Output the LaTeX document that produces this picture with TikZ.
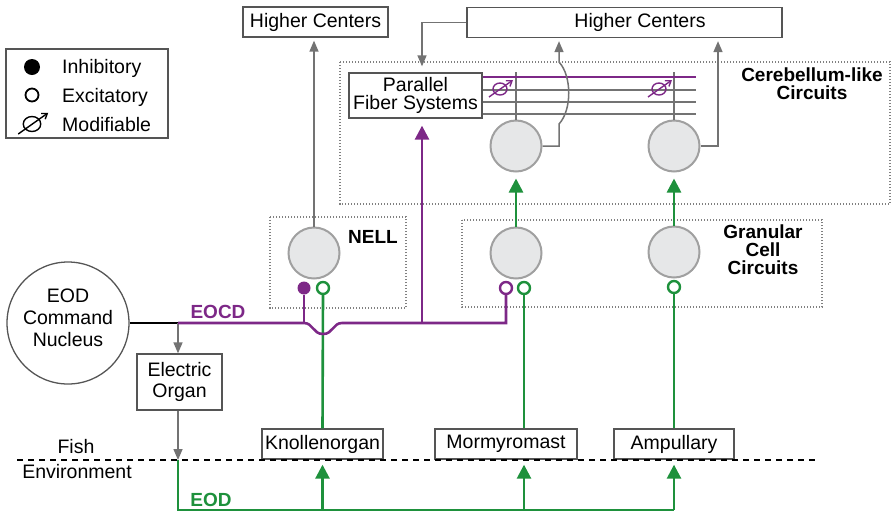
\documentclass[tikz,border=0pt]{standalone}
\usepackage{fontspec}
\setmainfont{Liberation Sans}
\usetikzlibrary{arrows.meta}

\definecolor{eocdpurple}{RGB}{125,40,135}
\definecolor{eodgreen}{RGB}{30,145,60}
\definecolor{cellfill}{RGB}{230,231,232}
\definecolor{celldraw}{RGB}{160,160,160}
\definecolor{wiregray}{RGB}{115,115,115}
\definecolor{boxgray}{RGB}{85,85,85}

\tikzset{
  cell/.style={circle, draw=celldraw, fill=cellfill, line width=2pt, minimum size=51pt, inner sep=0pt},
  box/.style={draw=boxgray, line width=1.3pt, inner sep=0pt, align=center, fill=white},
  region/.style={draw=gray, line width=1.2pt, dash pattern=on 1.2pt off 1.8pt},
  label/.style={inner sep=0pt, align=center},
  boldlabel/.style={inner sep=0pt, align=center, font=\fontsize{19}{18}\selectfont\bfseries},
  blackwire/.style={draw=black, line width=1.3pt},
  graywire/.style={draw=wiregray, line width=1.5pt},
  purplewire/.style={draw=eocdpurple, line width=2.6pt},
  greenwire/.style={draw=eodgreen, line width=2.6pt},
  smallhead/.style={-{Triangle[length=11pt,width=9pt]}},
  bighead/.style={-{Triangle[length=14pt,width=14pt]}},
  inhsyn/.style={circle, fill=eocdpurple, minimum size=13pt, inner sep=0pt},
  excsyn/.style={circle, draw=#1, line width=2.4pt, fill=white, minimum size=12pt, inner sep=0pt},
  modsym/.pic={
    \draw[line width=1.4pt] (0,0) ellipse (7 and 6);
    \draw[line width=1.4pt, -{Straight Barb[length=5pt,width=7pt]}] (-11,-8) -- (13,9);
  }
}

\begin{document}
\begin{tikzpicture}[x=1pt,y=1pt,yscale=-1,xscale=1,font=\fontsize{19.5}{22}\selectfont]
\useasboundingbox (0,0) rectangle (893,515);

%Shape: Legend
\draw[draw=boxgray, line width=1.3pt] (6,49) rectangle (168,138);
\node[circle, fill=black, minimum size=16pt, inner sep=0pt] (leginh) at (32,67) {};
\node[circle, draw=black, line width=1.8pt, minimum size=13pt, inner sep=0pt] (legexc) at (32,95) {};
\pic[scale=1.25] at (32,124) {modsym};
% Text Node
\node[label, anchor=base west] (leginhtxt) at (62,73) {Inhibitory};
\node[label, anchor=base west] (legexctxt) at (62,102) {Excitatory};
\node[label, anchor=base west] (legmodtxt) at (62,131) {Modifiable};

%Shape: Regions
\draw[region] (340,62) rectangle (890,204);
\draw[region] (462,220) rectangle (822,307);
\draw[region] (270,217) rectangle (406,308);

% Text Node
\node[boldlabel] (cblabel) at (812,84) {Cerebellum-like\\Circuits};
\node[boldlabel] (gclabel) at (763,250) {Granular\\Cell\\Circuits};
\node[boldlabel] (nelllabel) at (373,237) {NELL};

%Shape: Boxes
\node[box, minimum width=145pt, minimum height=30pt] (hcleft) at (315.5,22) {Higher Centers};
\node[box, minimum width=315pt, minimum height=30pt] (hcright) at (624.5,22.5) {\hspace*{31pt}Higher Centers};
\node[box, minimum width=133pt, minimum height=45pt, font=\fontsize{19.5}{18}\selectfont] (pfs) at (415.5,95.5) {Parallel\\Fiber Systems};
\node[box, minimum width=85pt, minimum height=56pt, font=\fontsize{19.5}{21}\selectfont] (organ) at (179.5,382) {Electric\\Organ};
\node[box, minimum width=121pt, minimum height=30pt] (knollen) at (322.5,444) {Knollenorgan};
\node[box, minimum width=142pt, minimum height=30pt] (mormyro) at (506,444) {Mormyromast};
\node[box, minimum width=120pt, minimum height=30pt] (ampull) at (674,444) {Ampullary};

%Shape: Circle
\node[circle, draw=boxgray, line width=1.3pt, minimum size=122pt, inner sep=0pt] (eodcn) at (68,323) {};
\node[label] (eodcntxt) at (68,318) {EOD\\Command\\Nucleus};

%Shape: Cells
\node[cell] (cbone) at (516,146) {};
\node[cell] (cbtwo) at (674,146) {};
\node[cell] (gcone) at (516,253) {};
\node[cell] (gctwo) at (674,252) {};
\node[cell] (nellcell) at (314,253) {};

% Fixed points
\coordinate (junc) at (178,323);
\coordinate (skin) at (178,460);
\coordinate (eodcorner) at (178,510);
\coordinate (pfsfeed) at (422,323);
\coordinate (fiberend) at (696,77);
\coordinate (cbonebend) at (559,146);

%Straight Lines: parallel fibers and dendrites
\draw[graywire] (cbone.north) -- (516,72);
\draw[graywire] (cbtwo.north) -- (674,72);
\foreach \y in {90,102,114}
  \draw[graywire] (pfs.east |- 0,\y) -- (fiberend |- 0,\y);
\draw[purplewire] (pfs.east |- fiberend) -- (fiberend);
\pic[color=eocdpurple] at (500,89) {modsym};
\pic[color=eocdpurple] at (659,89) {modsym};

%Curve Lines: outputs to higher centers
\draw[graywire, smallhead, shorten >=3pt] (cbone.east) -- (cbonebend) -- (559,124) .. controls (572,110) and (572,76) .. (559,62) -- (559,0 |- hcright.south);
\draw[graywire, smallhead, shorten >=3pt] (cbtwo.east) -| (718,0 |- hcright.south);
\draw[graywire, smallhead, shorten >=3pt] (nellcell.north) -- (nellcell.north |- hcleft.south);
\draw[graywire, smallhead, shorten >=6pt] (hcright.west) -| (pfsfeed |- pfs.north);

%Synapses
\node[inhsyn] (nellinh) at (304,288) {};
\node[excsyn=eodgreen] (nellexc) at (323,288) {};
\node[excsyn=eocdpurple] (gconeeocd) at (506,288) {};
\node[excsyn=eodgreen] (gconeexc) at (524,288) {};
\node[excsyn=eodgreen] (gctwoexc) at (674,287) {};

%Straight Lines: command
\draw[blackwire] (eodcn.east) -- (junc);
\draw[graywire, smallhead] (junc) -- (junc |- organ.north);
\draw[graywire, smallhead] (organ.south -| junc) -- (skin);

%Straight Lines: fish / environment border
\draw[line width=2pt, dash pattern=on 6pt off 5pt] (17,460) -- (818,460);
\node[label] (fishtxt) at (76,447) {Fish};
\node[label] (envtxt) at (77,472) {Environment};

%Straight Lines: electric organ discharge
\draw[greenwire] (skin) -- (eodcorner) -- (ampull.south |- eodcorner);
\draw[greenwire, bighead, shorten >=5pt] (knollen.south |- eodcorner) -- (knollen.south);
\draw[greenwire, bighead, shorten >=5pt] (gconeexc |- eodcorner) -- (gconeexc |- mormyro.south);
\draw[greenwire, bighead, shorten >=5pt] (ampull.south |- eodcorner) -- (ampull.south);
\draw[greenwire] (knollen.north) -- (nellexc.south);
\draw[greenwire] (gconeexc |- mormyro.north) -- (gconeexc.south);
\draw[greenwire] (ampull.north) -- (gctwoexc.south);
\draw[greenwire, bighead, shorten >=6pt] (gcone.north) -- (cbone.south);
\draw[greenwire, bighead, shorten >=6pt] (gctwo.north) -- (cbtwo.south);
\node[boldlabel, text=eodgreen] (eodlabel) at (211,500) {EOD};

%Curve Lines: corollary discharge
\draw[purplewire] (nellinh.south) -- (nellinh.south |- junc);
\draw[purplewire] (junc) -- (nellinh.south |- junc) .. controls (313,323) and (313,334) .. (323,334) .. controls (333,334) and (333,323) .. (342,323) -- (gconeeocd.south |- junc) -- (gconeeocd.south);
\draw[purplewire, bighead, shorten >=7pt] (pfsfeed) -- (pfsfeed |- pfs.south);
\node[boldlabel, text=eocdpurple] (eocdlabel) at (218,312) {EOCD};

\end{tikzpicture}
\end{document}
